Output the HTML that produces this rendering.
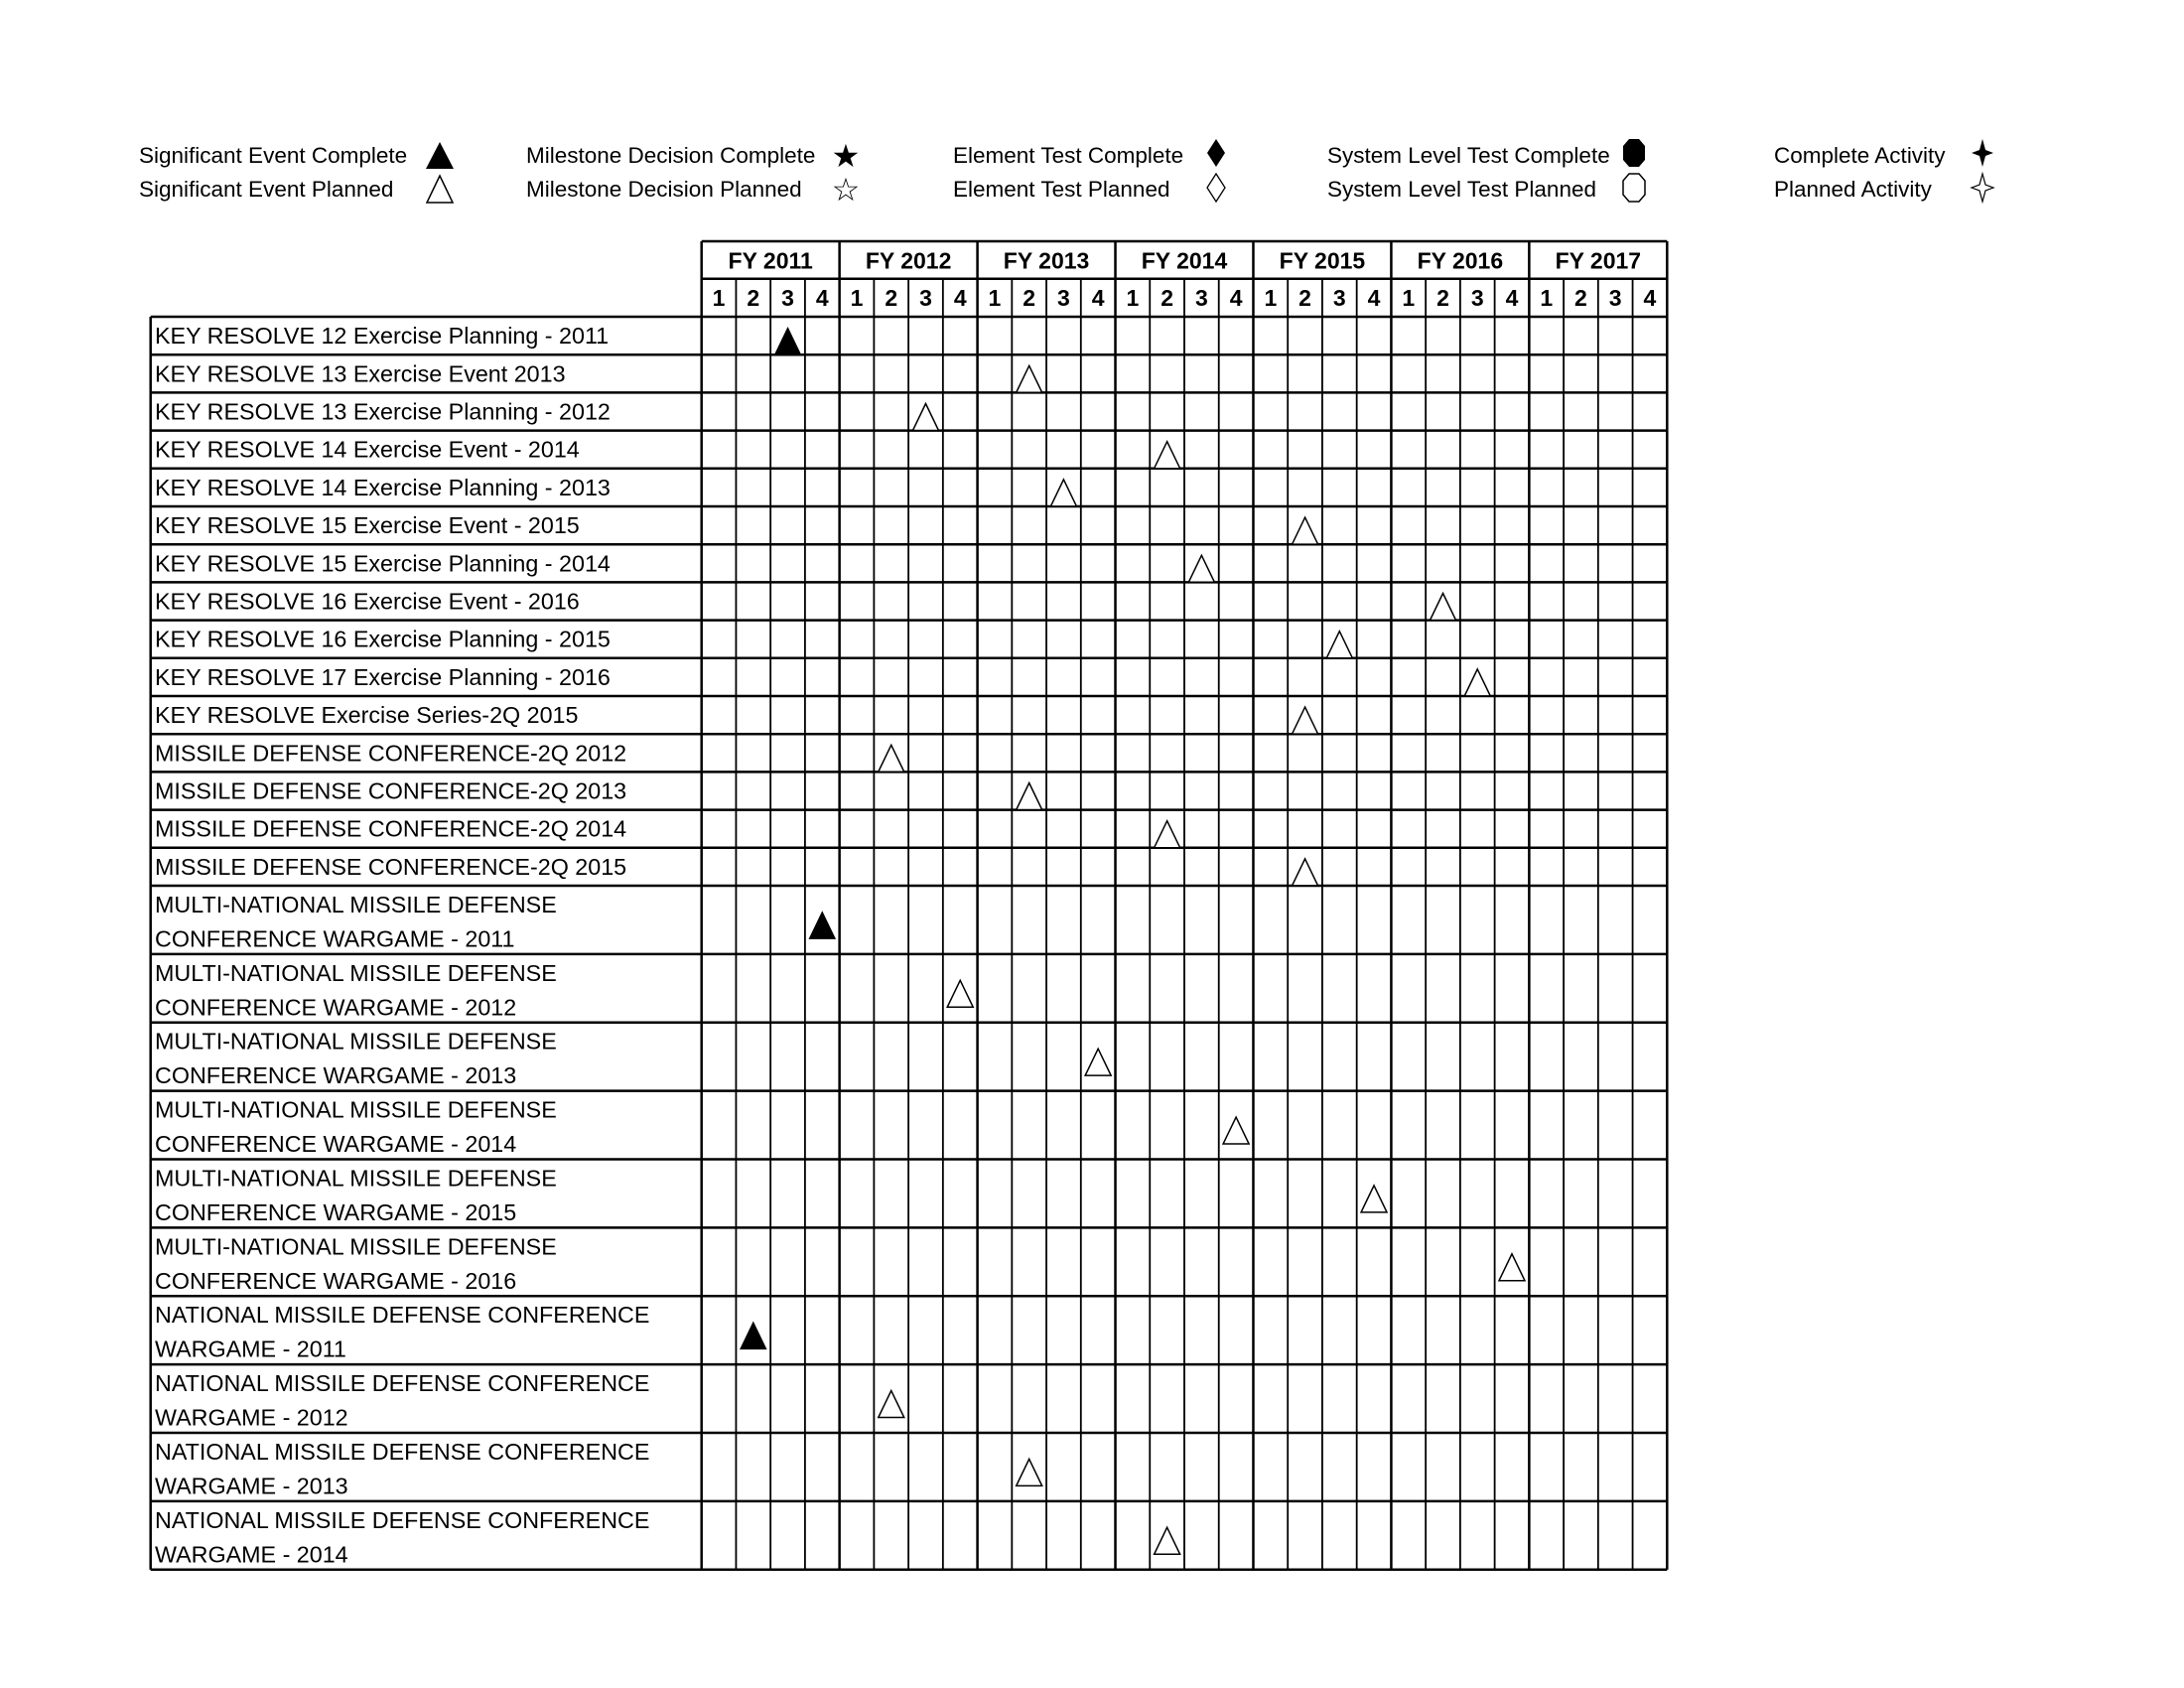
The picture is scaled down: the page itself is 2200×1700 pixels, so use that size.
<!DOCTYPE html>
<html><head><meta charset="utf-8"><style>
html,body{margin:0;padding:0;background:#fff;}
svg{display:block;font-family:"Liberation Sans",sans-serif;}
</style></head><body>
<svg id="chart" width="2200" height="1700" viewBox="0 0 2200 1700" xmlns="http://www.w3.org/2000/svg">
<g id="legend" font-size="22.5" fill="#000">
  <g><text x="140" y="164">Significant Event Complete</text><polygon points="443,143 457,170 429,170" fill="#000"/></g>
  <g><text x="140" y="198">Significant Event Planned</text><polygon points="443,177 456,204 430,204" fill="#fff" stroke="#000" stroke-width="1.5"/></g>
  <g><text x="530" y="164">Milestone Decision Complete</text><text x="852" y="168" font-size="32" text-anchor="middle" font-family="DejaVu Sans">★</text></g>
  <g><text x="530" y="198">Milestone Decision Planned</text><text x="852" y="202" font-size="32" text-anchor="middle" font-family="DejaVu Sans">☆</text></g>
  <g><text x="960" y="164">Element Test Complete</text><polygon points="1225,140 1234,154 1225,168 1216,154" fill="#000"/></g>
  <g><text x="960" y="198">Element Test Planned</text><polygon points="1225,175 1234,189 1225,203 1216,189" fill="#fff" stroke="#000" stroke-width="1.3"/></g>
  <g><text x="1337" y="164">System Level Test Complete</text><polygon points="1641,140 1651,140 1657,147 1657,161 1651,168 1641,168 1635,161 1635,147" fill="#000"/></g>
  <g><text x="1337" y="198">System Level Test Planned</text><polygon points="1641,175 1651,175 1657,182 1657,196 1651,203 1641,203 1635,196 1635,182" fill="#fff" stroke="#000" stroke-width="1.5"/></g>
  <g><text x="1787" y="164">Complete Activity</text><polygon points="1997,140 2000,151 2008,154 2000,157 1997,168 1994,157 1986,154 1994,151" fill="#000"/></g>
  <g><text x="1787" y="198">Planned Activity</text><polygon points="1997,175 2000,186 2008,189 2000,192 1997,203 1994,192 1986,189 1994,186" fill="#fff" stroke="#000" stroke-width="1.2"/></g>
</g>
<g id="grid"></g>
<g id="labels"></g>
<g id="marks"></g>
</svg>
<script>
const fiscalYears = ["FY 2011","FY 2012","FY 2013","FY 2014","FY 2015","FY 2016","FY 2017"];
const quarterLabels = ["1","2","3","4"];
const rowLabels = [
 ["KEY RESOLVE 12 Exercise Planning - 2011"],
 ["KEY RESOLVE 13 Exercise Event 2013"],
 ["KEY RESOLVE 13 Exercise Planning - 2012"],
 ["KEY RESOLVE 14 Exercise Event - 2014"],
 ["KEY RESOLVE 14 Exercise Planning - 2013"],
 ["KEY RESOLVE 15 Exercise Event - 2015"],
 ["KEY RESOLVE 15 Exercise Planning - 2014"],
 ["KEY RESOLVE 16 Exercise Event - 2016"],
 ["KEY RESOLVE 16 Exercise Planning - 2015"],
 ["KEY RESOLVE 17 Exercise Planning - 2016"],
 ["KEY RESOLVE Exercise Series-2Q 2015"],
 ["MISSILE DEFENSE CONFERENCE-2Q 2012"],
 ["MISSILE DEFENSE CONFERENCE-2Q 2013"],
 ["MISSILE DEFENSE CONFERENCE-2Q 2014"],
 ["MISSILE DEFENSE CONFERENCE-2Q 2015"],
 ["MULTI-NATIONAL MISSILE DEFENSE","CONFERENCE WARGAME - 2011"],
 ["MULTI-NATIONAL MISSILE DEFENSE","CONFERENCE WARGAME - 2012"],
 ["MULTI-NATIONAL MISSILE DEFENSE","CONFERENCE WARGAME - 2013"],
 ["MULTI-NATIONAL MISSILE DEFENSE","CONFERENCE WARGAME - 2014"],
 ["MULTI-NATIONAL MISSILE DEFENSE","CONFERENCE WARGAME - 2015"],
 ["MULTI-NATIONAL MISSILE DEFENSE","CONFERENCE WARGAME - 2016"],
 ["NATIONAL MISSILE DEFENSE CONFERENCE","WARGAME - 2011"],
 ["NATIONAL MISSILE DEFENSE CONFERENCE","WARGAME - 2012"],
 ["NATIONAL MISSILE DEFENSE CONFERENCE","WARGAME - 2013"],
 ["NATIONAL MISSILE DEFENSE CONFERENCE","WARGAME - 2014"]
];
// quarter index from FY2011 Q1 (0)
const eventQuarter = [2,9,6,13,10,17,14,21,18,22,17,5,9,13,17,3,7,11,15,19,23,1,5,9,13];
const eventStatus = ["complete","planned","planned","planned","planned","planned","planned","planned","planned","planned","planned","planned","planned","planned","planned","complete","planned","planned","planned","planned","planned","complete","planned","planned","planned"];

const NS="http://www.w3.org/2000/svg";
const gridL=706.7, gridR=1679.3, labelL=151.7, gridTop=243, fyB=280.7, qB=319;
const nQ=fiscalYears.length*4, colW=(gridR-gridL)/nQ;
const singleH=38.2, doubleH=68.87;
function xq(i){return gridL+i*colW;}
const rowTops=[]; let yy=qB;
rowLabels.forEach(l=>{rowTops.push(yy); yy+= l.length>1?doubleH:singleH;});
const gridBottom=yy;
function rowY(i){return rowTops[i];}
function rowH(i){return rowLabels[i].length>1?doubleH:singleH;}
function mk(tag,attrs,parent){const e=document.createElementNS(NS,tag);for(const k in attrs)e.setAttribute(k,attrs[k]);parent.appendChild(e);return e;}
const grid=document.getElementById('grid'), labels=document.getElementById('labels'), marks=document.getElementById('marks');
fiscalYears.forEach((fy,f)=>{
  const t=mk('text',{x:xq(f*4)+2*colW,y:fyB-10,'text-anchor':'middle','font-size':23,'font-weight':'bold'},grid);
  t.textContent=fy;
  
  
  for(let q=0;q<4;q++){
    const tq=mk('text',{x:xq(f*4+q)+colW/2,y:qB-11,'text-anchor':'middle','font-size':23,'font-weight':'bold'},grid);
    tq.textContent=quarterLabels[q];
    
    
  }
});
mk('line',{x1:gridL,x2:gridR,y1:gridTop,y2:gridTop,stroke:'#000','stroke-width':2.5},grid);
mk('line',{x1:gridL,x2:gridR,y1:fyB,y2:fyB,stroke:'#000','stroke-width':2.5},grid);
mk('line',{x1:labelL,x2:gridR,y1:qB,y2:qB,stroke:'#000','stroke-width':2.5},grid);
rowLabels.forEach((l,i)=>{const yb=rowY(i)+rowH(i);mk('line',{x1:labelL,x2:gridR,y1:yb,y2:yb,stroke:'#000','stroke-width':2.5},grid);});
mk('line',{x1:labelL,x2:labelL,y1:qB,y2:gridBottom,stroke:'#000','stroke-width':2.5},grid);
for(let i=0;i<=nQ;i++){
  const major=i%4===0;
  mk('line',{x1:xq(i),x2:xq(i),y1:major?gridTop:fyB,y2:gridBottom,stroke:'#000','stroke-width':major?2.5:1.8},grid);
}
rowLabels.forEach((l,i)=>{
  const t=mk('text',{x:156,'font-size':23.3},labels);
  
  
  if(l.length===1){t.setAttribute('y',rowY(i)+singleH/2+8);t.textContent=l[0];}
  else{
    l.forEach((s,k)=>{const ts=mk('tspan',{x:156,y:rowY(i)+27+k*34.5},t);ts.textContent=s;});
  }
});
eventQuarter.forEach((q,i)=>{
  const cx=xq(q)+colW/2, cy=rowY(i)+rowH(i)/2;
  const pts=`${cx},${cy-8} ${cx+13},${cy+19} ${cx-13},${cy+19}`;
  const done=eventStatus[i]==='complete';
  const p=mk('polygon',{points:pts,fill:done?'#000':'#fff',stroke:'#000','stroke-width':done?1:1.5},marks);
  
  
});
</script>
</body></html>
